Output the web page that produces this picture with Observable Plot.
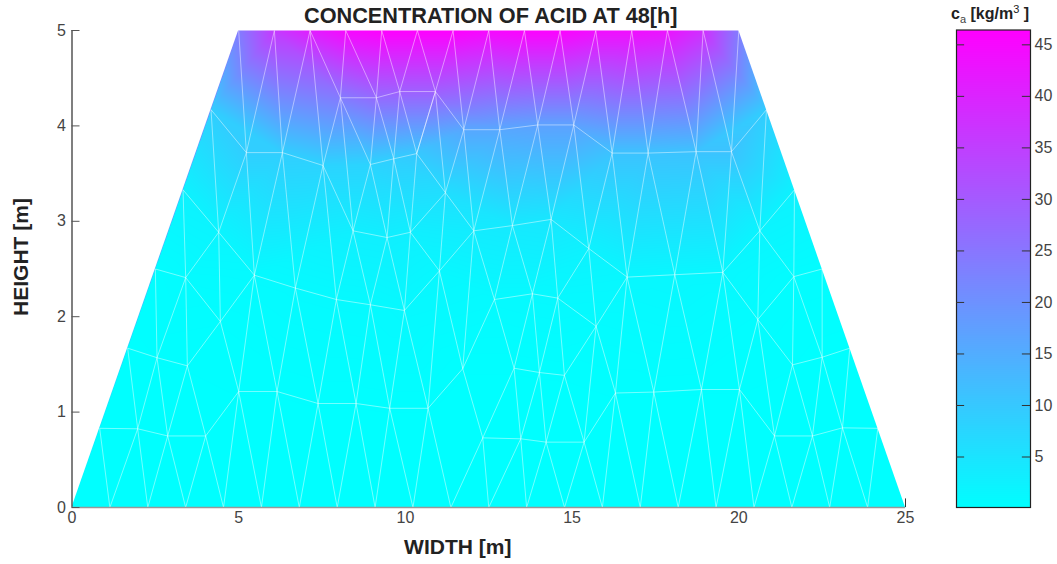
<!DOCTYPE html>
<html><head><meta charset="utf-8">
<script src="https://cdn.jsdelivr.net/npm/d3@7"></script>
<script src="https://cdn.jsdelivr.net/npm/@observablehq/plot@0.6"></script>
<style>
html,body{margin:0;padding:0;background:#fff}
#wrap{position:relative;width:1057px;height:564px;font-family:"Liberation Sans",sans-serif;overflow:hidden}
#wrap svg{position:absolute;background:none}
#cbt{position:absolute;left:951px;top:3px;font-size:16px;font-weight:bold;color:#222;white-space:nowrap;line-height:22px}
#cbt sub{font-size:11px;font-weight:normal;color:#444;line-height:0}
#cbt sup{font-size:11px;font-weight:normal;line-height:0}
</style></head><body><div id="wrap"><div id="cbt">c<sub>a</sub> [kg/m<sup>3</sup> ]</div></div>
<script>
const title = "CONCENTRATION OF ACID AT 48[h]";
const xLabel = "WIDTH [m]";
const yLabel = "HEIGHT [m]";
const xTicks = [0,5,10,15,20,25];
const yTicks = [0,1,2,3,4,5];
const barTicks = [5,10,15,20,25,30,35,40,45];
const barDomain = [0.1,46.44];

const nodeX = [
 // bottom edge
 0,1.136,2.273,3.409,4.545,5.682,6.818,7.955,9.091,10.227,11.364,12.5,13.636,14.773,15.909,17.045,18.182,19.318,20.455,21.591,22.727,23.864,25,
 // top edge
 5,6.07,7.14,8.21,9.29,10.36,11.43,12.5,13.57,14.64,15.71,16.79,17.86,18.93,20,
 // left edge
 0.83,1.67,2.5,3.33,4.17,
 // right edge
 24.17,23.33,22.5,21.67,20.83,
 // interior
 1.97,2.87,4.01,5.0,6.15,7.38,8.52,9.53,10.68,
 2.55,3.46,4.45,3.41,5.47,6.70,7.93,8.95,9.97,
 8.05,9.13,9.83,10.90,11.75,12.83,13.97,15.05,16.2,17.28,18.72,19.78,
 5.23,6.31,7.53,8.95,9.65,10.34,11.2,12.05,13.21,14.37,15.5,
 4.40,8.43,9.45,10.15,11.02,
 12.67,13.81,14.57,15.72,16.65,18.08,19.52,
 11.72,13.26,14.02,14.77,16.3,17.45,18.88,20.02,
 12.32,13.46,14.22,15.36,
 20.57,21.65,21.61,22.5,21.07,22.21,23.11,20.63
];
const nodeY = [
 0,0,0,0,0,0,0,0,0,0,0,0,0,0,0,0,0,0,0,0,0,0,0,
 5,5,5,5,5,5,5,5,5,5,5,5,5,5,5,
 0.83,1.67,2.5,3.33,4.17,
 0.83,1.67,2.5,3.33,4.17,
 0.825,0.75,0.75,1.216,1.216,1.09,1.09,1.04,1.04,
 1.57,1.485,1.95,2.41,2.435,2.30,2.18,2.125,2.065,
 4.295,4.295,4.36,4.36,3.96,3.96,4.01,4.01,3.715,3.715,3.73,3.73,
 3.72,3.72,3.585,3.595,3.655,3.71,3.30,2.90,2.955,3.02,2.715,
 2.885,2.90,2.83,2.885,2.48,
 2.18,2.24,2.195,1.90,2.415,2.44,2.465,
 1.455,1.46,1.415,1.385,1.20,1.21,1.237,1.237,
 0.73,0.72,0.685,0.685,
 1.97,2.42,1.495,1.575,0.75,0.75,0.835,2.90
];
const nodeC = [
 0,0,0,0,0,0,0,0,0,0,0,0,0,0,0,0,0,0,0,0,0,0,0,
 24,36,41,45,46.4,46.4,46.4,45,46,46,44,44,43,38,24,
 0.1,0.1,0.5,2.5,9,
 0.1,0.1,0.5,2.5,9,
 0.1,0.1,0.1,0.2,0.2,0.2,0.2,0.2,0.2,
 0.2,0.2,0.4,0.8,1,1,1,1,1.2,
 24,27,29,29,16,16,17,17,11,11,11,11,
 9,9,8,8,9,10,6,3.5,4,4.5,2.5,
 2,3,3,3,1.5,
 1,1.2,1.2,0.7,1.5,1.5,1.5,
 0.2,0.2,0.2,0.2,0.2,0.2,0.2,0.2,
 0.1,0.1,0.1,0.1,
 0.5,0.5,0.2,0.1,0.1,0.1,0.1,2
];
// Mesh connectivity: node index chains
const meshChains = [
 [38,1,48,2,49,3,50,4,51,5,52,6,53,7,54,8,55,9,56,10,109,11,110,12,111,13,112,14,105,15,106,16,107,17,108,18,117,19,118,20,119,21,43],
 [38,48,49,50,51,52,53,54,55,56],
 [109,110,111,112,105,106,107,108,117,118,119,43],
 [39,48,57,49,58,50],
 [59,51,61,52,62,53,63,54,64,55,65,56,93],
 [56,101,109,102,110,103,111,104,112,97,105,98,106,99,107,100,108,113,117,115,118,116,119,44],
 [39,57,58,59,61,62,63,64,65,93],
 [94,95,96,97,98,99,100,113,115,116,44],
 [102,103,104],
 [40,57,60,58],[59,60,41],[40,60,89,41],[59,89,61],[42,89,78,42],
 [78,61,79,62,80,63,90,64,91,65,92,93,84,92],
 [93,101],[93,85,84],[85,101,94,85],[94,102,95,103,96,104,97],
 [94,86,95,87,96,88,97],[85,86,87,88],[88,98],
 [85,71,86,72,87,73,88],[85,70,84,69,83,84],
 [83,92,82,91,81,90,66,81],[66,80,90],
 [66,67,68,69,70,71,72,73,74,75,76,77],[81,82,83],[78,79,80],[90,91,92],
 [81,67,82,68,83,69],
 [88,74,98,75,99,76,100,77,120,47,77],[120,100],[113,120,114,46,120],[113,114,115],[116,114,45,116],
 [23,78,24,79,25,80],
 [25,66,26,67,27,68,28,69,29,70,30,71,31,72,32,73,33,74,34,75,35,76,36,77,37]
];
const leftMaskX = [-1,0,5], leftMaskY = [0,0,5];
const rightMaskX = [20,25,27], rightMaskY = [5,0,0];

const nodes = nodeX.map((x,i)=>({x,y:nodeY[i],c:nodeC[i]}));
const meshEdges = meshChains.flatMap(ch=>d3.pairs(ch).map(([a,b])=>({x1:nodeX[a],y1:nodeY[a],x2:nodeX[b],y2:nodeY[b]})));
const mask = (xs,ys)=>xs.map((x,i)=>({x,y:ys[i],top:5}));
const colorScale = {type:"linear",domain:barDomain,range:["#00ffff","#ff00ff"],interpolate:"rgb",clamp:true};
const grey = "#555";

const main = Plot.plot({
  width:1057,height:564,marginLeft:71.5,marginRight:152,marginTop:30,marginBottom:57,
  style:{fontFamily:"Liberation Sans",background:"transparent",overflow:"visible"},
  x:{domain:[0,25]},y:{domain:[0,5]},color:colorScale,
  marks:[
    Plot.raster(nodes,{x:"x",y:"y",fill:"c",interpolate:"barycentric",pixelSize:1}),
    Plot.link(meshEdges,{x1:"x1",y1:"y1",x2:"x2",y2:"y2",stroke:"#fff",strokeOpacity:0.45,strokeWidth:1}),
    Plot.area(mask(leftMaskX,leftMaskY),{x1:"x",y1:"y",y2:"top",fill:"#fff"}),
    Plot.area(mask(rightMaskX,rightMaskY),{x1:"x",y1:"y",y2:"top",fill:"#fff"}),
    Plot.ruleX([0],{stroke:grey,strokeWidth:1.5}),
    Plot.ruleY([0],{stroke:"#999",strokeWidth:1.5}),
    Plot.ruleY(yTicks,{x1:0,x2:0.24,stroke:grey,strokeWidth:1}),
    Plot.ruleX([25],{y1:0,y2:0.09,stroke:"#333",strokeWidth:1}),
    Plot.axisX({ticks:xTicks,tickSize:0,tickPadding:4,fontSize:16,color:"#444",label:null,tickFormat:d=>d}),
    Plot.axisY({ticks:yTicks,tickSize:0,tickPadding:6,fontSize:16,color:"#444",label:null,tickFormat:d=>d}),
    Plot.text([yLabel],{frameAnchor:"left",textAnchor:"middle",dx:-50.5,dy:-12,rotate:-90,fontSize:21,fontWeight:"bold",fill:"#222"}),
    Plot.text([xLabel],{frameAnchor:"bottom",dx:-31,dy:46,fontSize:21,fontWeight:"bold",fill:"#222"}),
    Plot.text([title],{frameAnchor:"top",dx:2,dy:-23,fontSize:21.7,fontWeight:"bold",fill:"#222"})
  ]
});
main.style.left="0";main.style.top="0";

const bar = Plot.plot({
  width:101,height:564,marginLeft:0,marginRight:27,marginTop:29.5,marginBottom:57,
  style:{fontFamily:"Liberation Sans",background:"transparent",overflow:"visible"},
  x:{domain:[0,1],axis:null},y:{domain:barDomain,axis:null},color:colorScale,
  marks:[
    Plot.raster({x1:0,x2:1,y1:barDomain[0],y2:barDomain[1],width:1,height:478,fill:(x,y)=>y}),
    Plot.frame({stroke:"#222",strokeWidth:1.2}),
    Plot.ruleY(barTicks,{x1:0,x2:0.11,stroke:"#333"}),
    Plot.ruleY(barTicks,{x1:0.89,x2:1,stroke:"#333"}),
    Plot.axisY({anchor:"right",ticks:barTicks,tickSize:0,tickPadding:4,fontSize:16,color:"#444",label:null,tickFormat:d=>d})
  ]
});
bar.style.left="956px";bar.style.top="0";
const wrap=document.getElementById("wrap");
wrap.prepend(bar);wrap.prepend(main);
</script></body></html>
